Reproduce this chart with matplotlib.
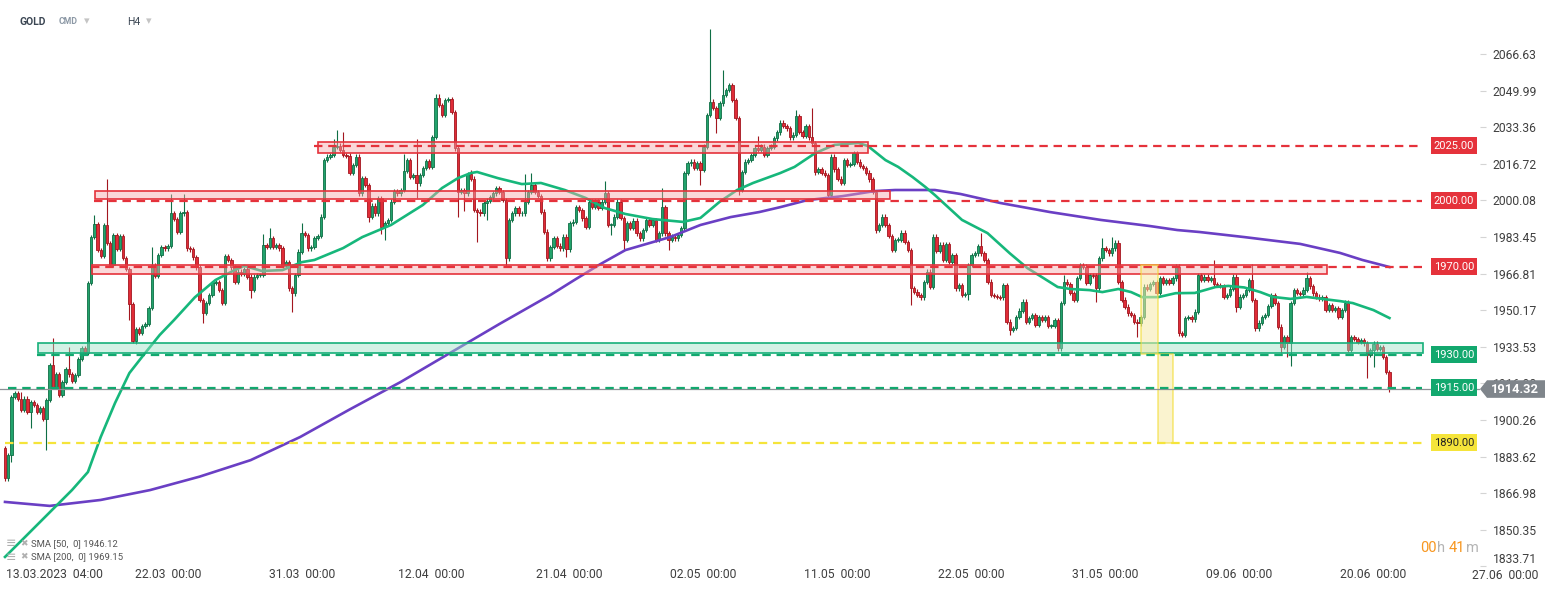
import matplotlib
matplotlib.use("Agg")
import matplotlib.pyplot as plt
from matplotlib.patches import Rectangle, Polygon
import numpy as np

# ---- data (GOLD, H4) ----
first_open = 1887.5
closes = [
    1874.0, 1884.3, 1910.8, 1912.5, 1910.0, 1904.8, 1910.0, 1903.9, 1908.4, 1907.0,
    1903.9, 1905.5, 1900.7, 1909.3, 1925.2, 1915.2, 1921.1, 1911.6, 1917.5, 1923.4,
    1921.0, 1918.0, 1920.7, 1928.0, 1933.0, 1930.7, 1962.5, 1983.4, 1989.3, 1977.5,
    1974.8, 1988.9, 1980.7, 1970.7, 1984.4, 1978.0, 1983.9, 1973.9, 1968.9, 1953.0,
    1936.2, 1941.6, 1939.8, 1943.0, 1944.0, 1951.1, 1970.7, 1965.7, 1975.2, 1978.9,
    1978.3, 1979.3, 1994.2, 1991.5, 1985.9, 1994.2, 1994.6, 1978.3, 1977.8, 1974.2,
    1969.6, 1954.8, 1949.0, 1953.3, 1957.1, 1962.4, 1963.1, 1959.3, 1953.6, 1974.8,
    1973.0, 1969.6, 1963.1, 1967.7, 1966.6, 1968.7, 1965.4, 1959.3, 1965.4, 1966.2,
    1966.2, 1979.8, 1979.0, 1982.8, 1979.0, 1979.8, 1978.3, 1970.3, 1972.2, 1960.1,
    1957.8, 1966.2, 1976.8, 1985.1, 1984.4, 1978.3, 1979.0, 1983.0, 1984.0, 1992.7,
    2018.4, 2020.0, 2020.7, 2024.5, 2025.0, 2023.0, 2020.7, 2020.4, 2012.4, 2016.2,
    2020.0, 2003.3, 2010.1, 2007.1, 1992.5, 1997.7, 1994.2, 2001.0, 1988.1, 1989.6,
    1991.2, 1999.5, 2004.3, 2003.3, 2004.8, 2013.4, 2018.4, 2010.9, 2011.6, 2007.8,
    2011.6, 2014.7, 2018.0, 2015.4, 2029.0, 2046.5, 2043.5, 2038.9, 2045.7, 2046.2,
    2040.4, 2023.7, 2004.0, 2004.8, 2003.3, 2012.0, 2010.0, 1995.7, 1995.0, 1994.2,
    1998.7, 2000.0, 2001.5, 2003.3, 2005.6, 2004.0, 2000.3, 1973.7, 1991.2, 1994.2,
    1996.5, 1994.2, 1994.2, 1999.5, 2004.0, 2007.1, 2004.0, 2002.0, 1995.0, 1985.9,
    1973.7, 1979.0, 1982.8, 1979.5, 1978.3, 1983.6, 1977.8, 1989.6, 1990.4, 1997.2,
    1995.7, 1991.9, 1988.1, 1999.5, 1997.2, 1999.5, 1996.5, 1999.5, 2003.3, 1988.9,
    1988.9, 1992.7, 1999.5, 1992.0, 1982.1, 1989.7, 1987.4, 1990.9, 1985.1, 1982.8,
    1986.6, 1991.2, 1988.9, 1991.2, 1982.1, 1985.1, 1997.2, 1985.1, 1982.1, 1983.6,
    1982.8, 1984.4, 1987.4, 2012.4, 2016.9, 2017.7, 2014.7, 2017.2, 2013.9, 2024.5,
    2038.9, 2045.0, 2042.0, 2037.4, 2044.2, 2048.0, 2050.3, 2052.6, 2045.7, 2037.4,
    2004.8, 2013.1, 2017.7, 2018.4, 2020.7, 2023.8, 2023.0, 2024.5, 2020.7, 2023.8,
    2024.5, 2028.3, 2031.0, 2035.4, 2034.0, 2032.8, 2028.7, 2030.0, 2038.4, 2031.3,
    2029.4, 2033.9, 2028.7, 2026.0, 2013.1, 2014.2, 2012.7, 2011.6, 2002.5, 2020.0,
    2014.2, 2010.0, 2008.0, 2018.4, 2016.2, 2016.5, 2021.5, 2017.7, 2015.7, 2014.7,
    2012.7, 2009.6, 2004.0, 1986.6, 1988.9, 1992.7, 1988.9, 1983.9, 1977.5, 1982.0,
    1982.3, 1985.4, 1981.3, 1977.5, 1960.1, 1958.6, 1957.1, 1956.0, 1963.1, 1967.7,
    1960.9, 1983.6, 1977.0, 1980.0, 1973.0, 1980.3, 1972.0, 1975.3, 1960.1, 1961.6,
    1957.1, 1957.5, 1970.7, 1975.3, 1976.0, 1979.4, 1976.0, 1973.0, 1963.2, 1957.1,
    1956.5, 1956.2, 1956.0, 1961.6, 1945.0, 1941.2, 1942.0, 1947.2, 1950.0, 1954.1,
    1945.0, 1946.5, 1948.0, 1943.5, 1947.2, 1945.7, 1947.0, 1943.0, 1943.0, 1945.7,
    1932.8, 1953.3, 1963.2, 1962.0, 1958.0, 1954.8, 1964.7, 1970.7, 1970.0, 1962.4,
    1966.2, 1966.0, 1960.1, 1973.7, 1978.3, 1977.5, 1976.0, 1978.3, 1980.9, 1963.1,
    1955.0, 1951.8, 1948.7, 1948.0, 1945.0, 1944.2, 1947.2, 1960.9, 1960.0, 1962.0,
    1963.1, 1958.0, 1964.6, 1962.5, 1964.0, 1962.7, 1964.6, 1970.0, 1939.6, 1939.0,
    1946.5, 1947.0, 1946.0, 1949.5, 1966.2, 1963.8, 1965.4, 1964.0, 1964.6, 1962.1,
    1961.6, 1961.2, 1956.3, 1957.0, 1960.0, 1965.4, 1951.8, 1956.3, 1957.0, 1959.3,
    1963.9, 1954.8, 1941.9, 1944.5, 1947.0, 1948.0, 1952.1, 1957.0, 1953.3, 1942.7,
    1933.6, 1938.1, 1935.1, 1953.3, 1959.3, 1958.0, 1957.5, 1959.5, 1964.6, 1961.0,
    1957.8, 1956.3, 1955.5, 1956.0, 1950.3, 1952.5, 1950.3, 1951.0, 1947.2, 1950.3,
    1953.6, 1932.1, 1938.1, 1937.0, 1935.9, 1936.6, 1935.1, 1929.8, 1932.0, 1935.0,
    1932.5, 1933.5, 1929.0, 1922.2, 1914.3,
]
# long wicks (bar index -> price)
high_marks = {5: 1913, 15: 1937.5, 20: 1933.4, 28: 1993.4, 29: 1990, 32: 2009.8,
              46: 1979, 52: 2003, 56: 2003, 81: 1984.8, 83: 1987.4, 93: 1990,
              103: 2028, 104: 2032.1, 106: 2031.3, 125: 2021, 129: 2028,
              135: 2048.3, 136: 2048.3, 146: 2014, 163: 2012, 165: 2012.4,
              188: 2009, 206: 2005.6, 221: 2077.8, 225: 2059.4, 236: 2029.4,
              248: 2041.2, 253: 2042, 306: 1985.1, 332: 1966, 344: 1982.8,
              347: 1983.6, 379: 1973, 391: 1971.2, 408: 1967.7}
low_marks = {0: 1872.5, 1: 1872.5, 2: 1881, 8: 1896.6, 13: 1886.6, 39: 1945.7,
             41: 1934.8, 46: 1954.8, 62: 1944.2, 77: 1955.6, 90: 1949.5,
             114: 1990.4, 118: 1985, 119: 1982, 129: 2001, 142: 1992.7,
             144: 1995.2, 148: 1981.3, 151: 1991.2, 157: 1969.6, 170: 1973,
             176: 1974.5, 190: 1984.3, 194: 1977.5, 208: 1977.5, 218: 2007.1,
             223: 2030.9, 230: 2002.6, 254: 2011.6, 259: 2001.5, 273: 1985.4,
             278: 1976.8, 284: 1952.5, 302: 1954.8, 315: 1938.9, 330: 1932.4,
             342: 1954, 355: 1938.1, 386: 1949.5, 400: 1930.6, 402: 1929,
             403: 1924.8, 421: 1931.3, 427: 1919.2, 429: 1924.5, 434: 1913.1}

sma50_bars = [0, 5, 11, 21, 26, 30, 34.5, 39, 43, 48.5, 53, 59.5, 66, 72, 75, 80.5,
              87, 93, 97, 106, 112, 121, 131, 137, 142, 146, 148, 154.5, 162, 168,
              175.5, 182, 188, 194.5, 203, 212.5, 218, 224, 229.5, 234.5, 243,
              247.5, 254, 260, 267.5, 270.5, 276, 280, 284.5, 288.5, 291.5, 300,
              308, 315, 320.5, 325.5, 330, 334, 340, 344, 349, 353, 356.5, 361.5,
              367, 373, 379.5, 383.5, 388.5, 393.5, 397.5, 403, 408, 413, 418.5,
              422.5, 429, 434]
sma50_vals = [1838.0, 1845.2, 1853.9, 1868.4, 1876.6, 1892.5, 1908.0, 1921.6, 1929.0,
              1938.9, 1945.7, 1956.0, 1963.9, 1968.4, 1970.3, 1968.0, 1968.4, 1972.0,
              1973.0, 1978.4, 1983.4, 1988.9, 1998.0, 2005.7, 2010.2, 2012.5, 2013.0,
              2010.2, 2007.5, 2008.0, 2004.8, 2001.2, 1996.6, 1993.9, 1991.6, 1990.3,
              1992.1, 1999.4, 2004.8, 2008.0, 2012.5, 2015.3, 2021.6, 2025.3, 2026.2,
              2024.8, 2018.4, 2015.3, 2010.7, 2006.2, 2002.5, 1991.2, 1985.2, 1976.0,
              1969.3, 1964.8, 1960.7, 1959.8, 1959.3, 1958.4, 1959.8, 1958.4, 1956.1,
              1956.1, 1957.9, 1958.0, 1960.7, 1961.2, 1960.5, 1958.4, 1956.2, 1955.3,
              1956.2, 1955.3, 1954.3, 1953.4, 1950.2, 1946.6]
sma200_bars = [0, 14, 30, 45.5, 61, 77, 92.5, 108, 124, 139.5, 155, 171, 178.5,
               186.5, 194.5, 208.5, 218, 227.5, 236.5, 243, 251.5, 262.5, 272.5,
               279, 291.5, 299.5, 312, 327.5, 343.5, 359, 367.5, 374.5, 388.5, 406,
               418.5, 425.5, 434]
sma200_vals = [1863.0, 1861.2, 1863.9, 1868.4, 1874.5, 1882.0, 1892.5, 1905.0,
               1917.5, 1930.7, 1943.9, 1957.1, 1963.9, 1971.0, 1977.5, 1983.4,
               1988.9, 1992.5, 1994.8, 1997.0, 2000.2, 2002.0, 2004.3, 2004.8,
               2004.8, 2003.0, 1998.9, 1994.8, 1991.2, 1988.4, 1986.6, 1985.7,
               1983.4, 1980.3, 1976.2, 1973.0, 1969.8]

# horizontal levels: price, colour, first bar
levels = [2025.0, 2000.0, 1970.0, 1930.0, 1915.0, 1890.0]
level_colors = ['#e5323b', '#e5323b', '#e5323b', '#12a86e', '#12a86e', '#f5e43a']
level_starts = [97, 28, 27, 10, 1, 0]
# zones: bar from, bar to, low, high
zone_x0 = [98, 28.2, 27.3, 10.3]
zone_x1 = [270.5, 277.4, 414.4, 444.5]
zone_lo = [2021.8, 2000.7, 1966.4, 1930.5]
zone_hi = [2026.4, 2004.3, 1970.8, 1935.1]
zone_kind = ['red', 'red', 'red', 'green']
last_price = 1914.32

date_pos = [15.4, 51, 93, 133.5, 177, 219, 261, 303, 345, 387, 429]
date_labels = ['13.03.2023  04:00', '22.03  00:00', '31.03  00:00', '12.04  00:00',
               '21.04  00:00', '02.05  00:00', '11.05  00:00', '22.05  00:00',
               '31.05  00:00', '09.06  00:00', '20.06  00:00']
price_ticks = [2066.63, 2049.99, 2033.36, 2016.72, 2000.08, 1983.45, 1966.81,
               1950.17, 1933.53, 1916.90, 1900.26, 1883.62, 1866.98, 1850.35, 1833.71]

plt.rcParams['font.family'] = ['Roboto', 'DejaVu Sans']

W, H = 1546, 590
fig = plt.figure(figsize=(W / 100, H / 100), dpi=100)
ax = fig.add_axes([0, (H - 566.6) / H, 1480 / W, 566.6 / H])
px_per_bar = 3.19
ax.set_xlim(-5 / px_per_bar, (1480 - 5) / px_per_bar)
ax.set_ylim(1833.6, 2091.18)

def px2bar(px):
    return (px - 5) / px_per_bar

# candles
c = np.array(closes)
o = np.concatenate([[first_open], c[:-1]])
idx = np.arange(len(c))
wick = 1.0
hi = np.maximum(o, c) + wick
lo = np.minimum(o, c) - wick
for b, v in high_marks.items():
    hi[b] = max(hi[b], v)
for b, v in low_marks.items():
    lo[b] = min(lo[b], v)
up = c >= o
body = np.where(np.abs(c - o) < 0.35, np.where(up, 0.35, -0.35), c - o)
ax.vlines(idx[up], lo[up], hi[up], color='#0f6e45', lw=0.8, zorder=2)
ax.vlines(idx[~up], lo[~up], hi[~up], color='#a3161f', lw=0.8, zorder=2)
ax.bar(idx[up], body[up], bottom=o[up], width=0.75, color='#22a36c',
       edgecolor='#0f6e45', linewidth=0.6, zorder=3)
ax.bar(idx[~up], body[~up], bottom=o[~up], width=0.75, color='#e02c37',
       edgecolor='#a3161f', linewidth=0.6, zorder=3)

# moving averages
ax.plot(sma200_bars, sma200_vals, color='#6a3fc4', lw=1.9, zorder=4)
ax.plot(sma50_bars, sma50_vals, color='#16b77b', lw=1.9, zorder=4)

# zones
for x0, x1, y0, y1, k in zip(zone_x0, zone_x1, zone_lo, zone_hi, zone_kind):
    fc = '#f6a9ab' if k == 'red' else '#9fe2c6'
    ec = '#e5323b' if k == 'red' else '#16b07a'
    ax.add_patch(Rectangle((x0, y0), x1 - x0, y1 - y0, facecolor=fc, alpha=0.45,
                           edgecolor='none', zorder=5))
    ax.add_patch(Rectangle((x0, y0), x1 - x0, y1 - y0, facecolor='none',
                           edgecolor=ec, lw=1.2, zorder=5))

# yellow target boxes
ax.add_patch(Rectangle((px2bar(1141), 1930.2), px2bar(1158) - px2bar(1141), 40.3,
                       facecolor='#f7eaa8', alpha=0.55, edgecolor='#f2dc2e', lw=1.3, zorder=5))
ax.add_patch(Rectangle((px2bar(1158), 1890.0), px2bar(1173) - px2bar(1158), 40.2,
                       facecolor='#f7eaa8', alpha=0.55, edgecolor='#f2dc2e', lw=1.3, zorder=5))

# current price line
ax.axhline(last_price, color='#8c9196', lw=0.9, zorder=5)

# levels + right labels
x_end = px2bar(1422)
for p, col, s in zip(levels, level_colors, level_starts):
    ax.plot([s, x_end], [p, p], color=col, lw=1.6, dashes=(3.8, 2.6), zorder=6)
    tc = '#222222' if col == '#f5e43a' else 'white'
    ax.text(px2bar(1454), p, f'{p:.2f}', ha='center', va='center', fontsize=8,
            color=tc, zorder=9,
            bbox=dict(boxstyle='square,pad=0.28', fc=col, ec='none'))

# axes styling
for sp in ax.spines.values():
    sp.set_visible(False)
ax.yaxis.tick_right()
ax.set_yticks(price_ticks)
ax.set_yticklabels([f'{t:.2f}' for t in price_ticks])
ax.tick_params(axis='y', length=4, color='#d4d4d4', pad=5, labelsize=8.7,
               labelcolor='#3f3f3f')
# bottom price label sits just above the edge, as on the platform
ax.get_yticklabels()[-1].set_va('bottom')
ax.set_xticks(date_pos)
ax.set_xticklabels(date_labels)
ax.tick_params(axis='x', length=0, pad=1.0, labelsize=8.7, labelcolor='#3f3f3f')
ax.text(px2bar(1505), -0.004, '27.06  00:00', transform=ax.get_xaxis_transform(),
        ha='center', va='top', fontsize=8.7, color='#3f3f3f', clip_on=False)

# last price tag
tag = Polygon([(px2bar(1480), last_price), (px2bar(1487), last_price + 4.0),
               (px2bar(1545), last_price + 4.0), (px2bar(1545), last_price - 4.0),
               (px2bar(1487), last_price - 4.0)], closed=True, fc='#7f858b',
              ec='none', clip_on=False, zorder=10)
ax.add_patch(tag)
ax.text(px2bar(1515), last_price, f'{last_price:.2f}', ha='center', va='center',
        fontsize=9.3, fontweight='bold', color='white', zorder=11, clip_on=False)

# candle timer, pieces chained one after another
ty = 1842.0
t = ax.text(px2bar(1420), ty, '00', color='#f7961f', fontsize=10.5, va='center', zorder=9)
for piece, col, gap in [('h', '#b4b4b4', 0.5), ('41', '#f7961f', 2.5), ('m', '#b4b4b4', 0.5)]:
    t = ax.annotate(piece, xy=(1, 0), xycoords=t, xytext=(gap, 0),
                    textcoords='offset points', ha='left', va='bottom',
                    color=col, fontsize=10.5, zorder=9)

# header
fig.text(20 / W, 1 - 22 / H, 'GOLD', fontsize=7.5, fontweight='bold', color='#3b4653', va='center')
fig.text(59 / W, 1 - 22 / H, 'CMD', fontsize=6.3, fontweight='bold', color='#8d99a6', va='center')
fig.text(84 / W, 1 - 21 / H, '▾', fontsize=8, color='#c4c4c4', va='center')
fig.text(127 / W, 1 - 22 / H, 'H4', fontsize=7.5, color='#3b4653', va='center')
fig.text(146 / W, 1 - 21 / H, '▾', fontsize=8, color='#c4c4c4', va='center')

# indicator legend
for yy, txt in [(544, 'SMA [50,  0] 1946.12'), (557, 'SMA [200,  0] 1969.15')]:
    fig.text(6 / W, 1 - yy / H, '≡', fontsize=9, color='#b0b0b0', va='center')
    fig.text(20 / W, 1 - yy / H, '✖', fontsize=6.5, color='#b0b0b0', va='center')
    fig.text(31 / W, 1 - yy / H, txt, fontsize=6.8, color='#555555', va='center')

fig.savefig('out.png', dpi=100)
